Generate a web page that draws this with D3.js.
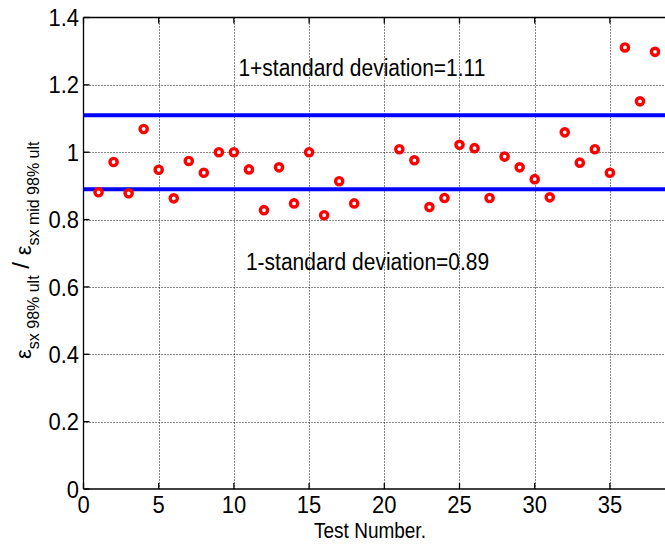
<!DOCTYPE html>
<html>
<head>
<meta charset="utf-8">
<script src="https://cdn.jsdelivr.net/npm/d3@7"></script>
<style>
  html, body { margin: 0; padding: 0; background: #fff; }
  svg { display: block; font-family: "Liberation Sans", Arial, Helvetica, sans-serif; }
</style>
</head>
<body>
<svg id="chart" width="665" height="546"></svg>
<script>
// Test numbers and ratio of strains (tests 19 and 20 have no result)
const testNumbers = [1, 2, 3, 4, 5, 6, 7, 8, 9, 10, 11, 12, 13, 14, 15, 16, 17, 18,
                     21, 22, 23, 24, 25, 26, 27, 28, 29, 30, 31, 32, 33, 34, 35, 36, 37, 38];
const strainRatios = [0.881, 0.971, 0.878, 1.069, 0.948, 0.863, 0.974, 0.939, 1.000, 1.000,
                      0.949, 0.828, 0.955, 0.848, 1.000, 0.813, 0.914, 0.848,
                      1.009, 0.976, 0.837, 0.864, 1.022, 1.012, 0.864, 0.987, 0.955, 0.920,
                      0.866, 1.059, 0.969, 1.009, 0.939, 1.311, 1.151, 1.298];
// Band of one standard deviation around unity
const bandLevels = [1.11, 0.89];
const bandLabels = ["1+standard deviation=1.11", "1-standard deviation=0.89"];
const bandLabelAt = [[10.3, 1.225], [10.8, 0.649]];
const xTicks = [0, 5, 10, 15, 20, 25, 30, 35];
const yTicks = [0, 0.2, 0.4, 0.6, 0.8, 1, 1.2, 1.4];

const svg = d3.select("#chart");
const plotLeft = 83.5, plotTop = 17.5, plotBottom = 489;
const x = d3.scaleLinear().domain([0, 40]).range([plotLeft, plotLeft + 40 * 15.04]);
const y = d3.scaleLinear().domain([0, 1.4]).range([plotBottom, plotTop]);
const plotRight = x(40);
const vs = 1.12; // text is drawn slightly tall

// dotted grid
const grid = svg.append("g").attr("stroke", "#111").attr("stroke-width", 1)
  .attr("stroke-dasharray", "1,2").attr("fill", "none");
grid.selectAll(".gx").data(xTicks.filter(d => d > 0)).join("line")
  .attr("x1", d => Math.round(x(d)) + 0.5).attr("x2", d => Math.round(x(d)) + 0.5)
  .attr("y1", plotTop).attr("y2", plotBottom);
grid.selectAll(".gy").data(yTicks.filter(d => d > 0 && d < 1.4)).join("line")
  .attr("y1", d => Math.round(y(d)) + 0.5).attr("y2", d => Math.round(y(d)) + 0.5)
  .attr("x1", plotLeft).attr("x2", plotRight);

// axes box (left, top, bottom) with inward ticks
const axes = svg.append("g").attr("stroke", "#000").attr("stroke-width", 1.3).attr("fill", "none");
axes.append("line").attr("x1", plotLeft).attr("x2", plotLeft).attr("y1", plotTop).attr("y2", plotBottom);
axes.append("line").attr("x1", plotLeft).attr("x2", plotRight).attr("y1", plotTop).attr("y2", plotTop);
axes.append("line").attr("x1", plotLeft).attr("x2", plotRight).attr("y1", plotBottom).attr("y2", plotBottom);
axes.selectAll(".tb").data(xTicks).join("line")
  .attr("x1", d => x(d)).attr("x2", d => x(d)).attr("y1", plotBottom).attr("y2", plotBottom - 6);
axes.selectAll(".tt").data(xTicks).join("line")
  .attr("x1", d => x(d)).attr("x2", d => x(d)).attr("y1", plotTop).attr("y2", plotTop + 6);
axes.selectAll(".tl").data(yTicks).join("line")
  .attr("x1", plotLeft).attr("x2", plotLeft + 6).attr("y1", d => y(d)).attr("y2", d => y(d));

// tick labels
const fmt = d => d3.format("~g")(d);
svg.append("g").selectAll("text").data(xTicks).join("text")
  .attr("transform", d => `translate(${x(d)},513) scale(1,${vs})`)
  .attr("text-anchor", "middle").attr("font-size", 22).attr("fill", "#000")
  .text(fmt);
svg.append("g").selectAll("text").data(yTicks).join("text")
  .attr("transform", d => `translate(79,${y(d) + 8.6}) scale(1,${vs})`)
  .attr("text-anchor", "end").attr("font-size", 22).attr("fill", "#000")
  .text(fmt);

// standard deviation lines
svg.append("g").selectAll("line").data(bandLevels).join("line")
  .attr("x1", plotLeft).attr("x2", plotRight)
  .attr("y1", d => y(d)).attr("y2", d => y(d))
  .attr("stroke", "#0000ff").attr("stroke-width", 4);

// band annotations
svg.append("g").selectAll("text").data(bandLabels).join("text")
  .attr("transform", (d, i) => `translate(${x(bandLabelAt[i][0])},${y(bandLabelAt[i][1])}) scale(1,${vs})`)
  .attr("font-size", 21).attr("fill", "#000")
  .text(d => d);

// data markers
svg.append("g").selectAll("circle").data(testNumbers).join("circle")
  .attr("cx", d => x(d)).attr("cy", (d, i) => y(strainRatios[i]))
  .attr("r", 3.6).attr("fill", "#fff").attr("stroke", "#ff0000").attr("stroke-width", 3.4);

// axis titles
svg.append("text")
  .attr("transform", `translate(370,538) scale(1,${vs})`)
  .attr("text-anchor", "middle").attr("font-size", 19).attr("fill", "#000")
  .text("Test Number.");

const yl = svg.append("text")
  .attr("transform", `translate(31,${(plotTop + plotBottom) / 2 - 3}) rotate(-90)`)
  .attr("text-anchor", "middle").attr("font-size", 22).attr("fill", "#000");
yl.append("tspan").text("ε");
yl.append("tspan").attr("font-size", 16).attr("dy", 8).text("sx 98% ult");
yl.append("tspan").attr("font-size", 24).attr("dy", -10).text(" / ");
yl.append("tspan").attr("dy", 2).text("ε");
yl.append("tspan").attr("font-size", 16).attr("dy", 8).text("sx mid 98% ult");
</script>
</body>
</html>
